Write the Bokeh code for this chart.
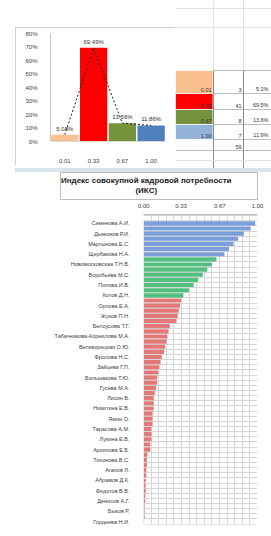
from bokeh.plotting import figure
from bokeh.layouts import column, row
from bokeh.models import (FactorRange, Range1d, FixedTicker, NumeralTickFormatter,
                          Div, Spacer)
from bokeh.core.properties import value
from bokeh.embed import file_html
from bokeh.resources import INLINE

FONT = "Liberation Sans"

# ---------------- data ----------------
BIN_LABELS = ["0.01", "0.33", "0.67", "1.00"]
BIN_COUNTS = [3, 41, 8, 7]
BIN_TOTAL = 59
BIN_COLORS = ["#fac08f", "#ff0000", "#77933c", "#4f81bd"]
TABLE_COLORS = ["#fabf8f", "#ff0000", "#76923c", "#95b3d7"]
HIST_Y_TICKS = [0.0, 0.1, 0.2, 0.3, 0.4, 0.5, 0.6, 0.7, 0.8]

TITLE_1 = "Индекс совокупной кадровой потребности"
TITLE_2 = "(ИКС)"
IKS_TICKS = [0.0, 0.33, 0.67, 1.0]

EMPLOYEES = [
    "Семенова А.И.", "Кузнецов Д.А.", "Дьяконов Р.И.", "Павлова С.Н.",
    "Мартынова Е.С.", "Соколов В.П.", "Щербакова Н.А.", "Морозов И.Г.",
    "Новомосковская Т.Н.В.", "Лебедева О.М.", "Воробьёва М.С.", "Козлов А.Е.",
    "Попова И.В.", "Егоров П.С.", "Котов Д.Н.", "Волкова Т.А.",
    "Орлова Е.А.", "Титов С.В.", "Жуков П.Н.", "Медведева Л.И.",
    "Белоусова Т.Г.", "Сорокин А.А.", "Табачникова-Корнилова М.А.", "Андреев К.О.",
    "Великорецкая О.Ю.", "Макарова Н.В.", "Фролова Н.С.", "Никитин Р.А.",
    "Зайцева Г.П.", "Борисов Е.Е.", "Большакова Т.Ю.", "Васильев И.И.",
    "Гусева М.А.", "Романов Д.С.", "Лисин В.", "Ершова А.Л.",
    "Никитина Е.В.", "Фомин С.Ю.", "Ямин О.", "Дмитриева К.С.",
    "Тарасова А.М.", "Белов Н.Н.", "Лукина Е.В.", "Кудрявцев А.С.",
    "Архипова Е.Б.", "Савельев Г.И.", "Тихонова В.С.", "Ильин П.М.",
    "Агапов Л.", "Гришина О.П.", "Абрамов Д.К.", "Мухина С.А.",
    "Федотов В.В.", "Карпова Т.И.", "Денисов А.Г.", "Осипова Л.Н.",
    "Быков Р.", "Комаров Е.В.", "Гордеева Н.И.",
]
IKS = [
    0.98, 0.94, 0.88, 0.83, 0.79, 0.75, 0.71,
    0.64, 0.60, 0.56, 0.52, 0.48, 0.44, 0.40, 0.35,
    0.33, 0.32, 0.31, 0.30, 0.29, 0.23, 0.22, 0.21, 0.20, 0.19,
    0.18, 0.16, 0.15, 0.14, 0.13, 0.12, 0.12, 0.11, 0.10, 0.09,
    0.09, 0.09, 0.08, 0.08, 0.08, 0.07, 0.07, 0.07, 0.06, 0.06,
    0.035, 0.03, 0.03, 0.025, 0.025, 0.02, 0.02, 0.02, 0.015, 0.015,
    0.01, 0.01, 0.01, 0.005,
]
COL_BLUE, COL_GREEN, COL_RED = "#7a9ed9", "#52bf7e", "#e27878"

# ---------------- histogram (chart box 15..175 x 27..165) ----------------
pct = [c / BIN_TOTAL for c in BIN_COUNTS]
hist = figure(width=160, height=138, x_range=FactorRange(*BIN_LABELS),
              y_range=Range1d(0, 0.8), output_backend="svg", toolbar_location=None,
              min_border_left=35, min_border_right=10, min_border_top=6,
              min_border_bottom=24,
              styles={"outline": "1px solid #c4c4c4", "outline-offset": "-1px"})
hist.vbar(x=BIN_LABELS, top=pct, width=0.95, fill_color=BIN_COLORS, line_color=None)
hist.line(x=BIN_LABELS, y=pct, line_color="#222222", line_dash="2 2", line_width=1)
hist.text(x=BIN_LABELS, y=pct, text=[f"{v*100:.2f}%" for v in pct],
          text_align="center", text_baseline="bottom", y_offset=-3,
          text_font=value(FONT), text_font_size="6px", text_color="#333333")
hist.xgrid.grid_line_color = None
hist.ygrid.grid_line_color = None
hist.outline_line_color = None
hist.yaxis.ticker = FixedTicker(ticks=HIST_Y_TICKS)
hist.yaxis.formatter = NumeralTickFormatter(format="0%")
for ax in (hist.xaxis[0], hist.yaxis[0]):
    ax.major_tick_line_color = None
    ax.minor_tick_line_color = None
    ax.major_label_text_font = FONT
    ax.major_label_text_font_size = "6px"
    ax.major_label_text_color = "#404040"
hist.yaxis.axis_line_color = "#c8c8c8"
hist.yaxis.major_label_standoff = 7
hist.xaxis.axis_line_color = "#d9d9d9"
hist.xaxis.major_label_standoff = 11

# ---------------- table (page x 175..271, y 0..168) ----------------
tbl = figure(width=96, height=168, x_range=Range1d(175, 271), y_range=Range1d(168, 0),
             output_backend="svg", toolbar_location=None, min_border=0)
tbl.axis.visible = False
tbl.xgrid.grid_line_color = None
tbl.ygrid.grid_line_color = None
tbl.outline_line_color = None
row_edges = [70, 93, 109, 124, 139, 150]
tbl.segment(x0=[213, 243, 175, 175], y0=[0, 0, 8, 27], x1=[213, 243, 271, 271],
            y1=[70, 70, 8, 27], line_color="#e3e3e3", line_width=1)
tbl.quad(left=175, right=212.5, top=row_edges[:4], bottom=row_edges[1:5],
         fill_color=TABLE_COLORS, line_color="white", line_width=0.8)
tbl.segment(x0=[213] * 6, y0=row_edges, x1=[271] * 6, y1=row_edges,
            line_color="#bdbdbd", line_width=1)
tbl.segment(x0=[175], y0=[150], x1=[213], y1=[150], line_color="#bdbdbd")
tbl.segment(x0=[213, 243], y0=[70, 70], x1=[213, 243], y1=[168, 168],
            line_color="#8c8c8c", line_width=1)
tbl.segment(x0=[175, 213], y0=[160, 160], x1=[271, 271], y1=[160, 160],
            line_color="#e3e3e3", line_width=1)
ybase = [e - 1.5 for e in row_edges[1:5]]
tkw = dict(text_baseline="bottom", text_align="right", text_font=value(FONT),
           text_font_size="5.5px", text_color="#333333")
tbl.text(x=211, y=ybase, text=BIN_LABELS, **tkw)
tbl.text(x=241, y=ybase, text=[str(c) for c in BIN_COUNTS], **tkw)
tbl.text(x=268, y=ybase, text=[f"{v*100:.1f}%" for v in pct], **tkw)
tbl.text(x=[241], y=[row_edges[5] - 1.5], text=[str(BIN_TOTAL)], **tkw)

# ---------------- band + title box ----------------
band = Div(text="", width=256, height=4, margin=0,
           styles={"background-color": "#d6e4ec"})
title_html = (
    f'<div style="font-family:\'{FONT}\';font-size:8px;font-weight:bold;'
    'text-align:center;line-height:10px;padding-top:3px;color:#1a1a1a;'
    f'white-space:nowrap">{TITLE_1}<br>{TITLE_2}</div>'
)
title_box = Div(text=title_html, width=198, height=28, margin=0,
                styles={"border": "1px solid #bfbfbf", "box-sizing": "border-box",
                        "overflow": "hidden"})

# ---------------- horizontal bar chart (page y 200..536) ----------------
n = len(EMPLOYEES)
idx = list(range(n))
colors = [COL_BLUE if v > 0.67 else (COL_GREEN if v > 0.33 else COL_RED) for v in IKS]
bar = figure(width=271, height=336, x_range=Range1d(0, 1), y_range=Range1d(58.57, -1.72),
             x_axis_location="above", output_backend="svg", toolbar_location=None,
             min_border_left=143, min_border_right=14, min_border_top=9,
             min_border_bottom=12)
bar.hbar(y=idx, right=IKS, height=0.8, fill_color=colors, line_color=None)
bar.outline_line_color = None
bar.xaxis.ticker = FixedTicker(ticks=IKS_TICKS, minor_ticks=[k / 15 for k in range(16)])
bar.xaxis.formatter = NumeralTickFormatter(format="0.00")
bar.yaxis.ticker = FixedTicker(ticks=list(range(0, n, 2)))
bar.yaxis.major_label_overrides = {i: EMPLOYEES[i] for i in range(0, n, 2)}
for ax in (bar.xaxis[0], bar.yaxis[0]):
    ax.major_tick_line_color = None
    ax.minor_tick_line_color = None
    ax.major_label_text_font = FONT
    ax.major_label_text_color = "#404040"
bar.xaxis.major_label_text_font_size = "6px"
bar.xaxis.major_label_standoff = 1
bar.xaxis.axis_line_color = "#bfbfbf"
bar.yaxis.axis_line_color = None
bar.yaxis.major_label_text_font_size = "5.5px"
bar.yaxis.major_label_standoff = 8
bar.xgrid.grid_line_color = "#d6d6d6"
bar.xgrid.minor_grid_line_color = "#d6d6d6"
bar.ygrid.ticker = FixedTicker(ticks=[i - 0.5 for i in range(-1, n + 1)])
bar.ygrid.grid_line_color = "#d6d6d6"

layout = column(
    row(column(Spacer(width=175, height=27, margin=0),
               row(Spacer(width=15, height=138, margin=0), hist)),
        tbl),
    row(Spacer(width=15, height=4, margin=0), band),
    row(Spacer(width=60, height=28, margin=0), title_box),
    bar,
)
open("out.html", "w").write(file_html(layout, INLINE))
